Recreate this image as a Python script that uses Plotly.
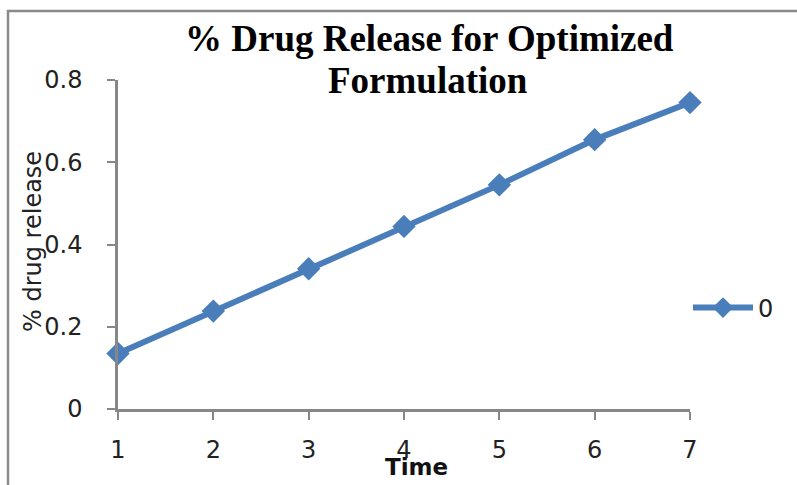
import plotly.graph_objects as go

time = [1, 2, 3, 4, 5, 6, 7]
release = [0.135, 0.238, 0.341, 0.444, 0.545, 0.655, 0.745]
series_name = "0"
y_ticks = [0, 0.2, 0.4, 0.6, 0.8]
y_tick_text = ["0", "0.2", "0.4", "0.6", "0.8"]
title_lines = ["% Drug Release for Optimized", "Formulation"]

BLUE = "#4a7ebb"
AXIS = "#878787"

fig = go.Figure()
fig.add_trace(go.Scatter(
    x=time, y=release, name=series_name, mode="lines+markers",
    line=dict(color=BLUE, width=6),
    marker=dict(symbol="diamond", size=18, color=BLUE),
    cliponaxis=False,
))

L, R, T, B = 118, 107, 80, 76
W, H = 797, 485
pw, ph = W - L - R, H - T - B

def px(xp):
    return (xp - L) / pw

def py(yp):
    return (H - B - yp) / ph

fig.update_layout(
    width=W, height=H,
    margin=dict(l=L, r=R, t=T, b=B, pad=0),
    paper_bgcolor="white", plot_bgcolor="white",
    showlegend=True,
    legend=dict(x=px(688), y=py(308), xanchor="left", yanchor="middle",
                font=dict(family="DejaVu Sans", size=24, color="#222"),
                bgcolor="rgba(0,0,0,0)", itemwidth=60),
    xaxis=dict(
        range=[1, 7], tickmode="array", tickvals=time,
        ticks="outside", ticklen=8, tickwidth=2, tickcolor=AXIS,
        showline=True, linecolor=AXIS, linewidth=2.5,
        showgrid=False, zeroline=False, ticklabelstandoff=9,
        tickfont=dict(family="DejaVu Sans", size=24, color="#222"),
    ),
    yaxis=dict(
        range=[0, 0.8], tickmode="array", tickvals=y_ticks, ticktext=y_tick_text,
        ticks="outside", ticklen=8, tickwidth=2, tickcolor=AXIS,
        showline=True, linecolor=AXIS, linewidth=2.5,
        showgrid=False, zeroline=False, ticklabelstandoff=20,
        tickfont=dict(family="DejaVu Sans", size=24, color="#222"),
    ),
    annotations=[
        dict(text="<b>" + title_lines[0] + "</b>",
             xref="paper", yref="paper", x=px(429), y=py(38),
             xanchor="center", yanchor="middle", showarrow=False,
             font=dict(family="Liberation Serif", size=37, color="black")),
        dict(text="<b>" + title_lines[1] + "</b>",
             xref="paper", yref="paper", x=px(428), y=py(81),
             xanchor="center", yanchor="middle", showarrow=False,
             font=dict(family="Liberation Serif", size=37, color="black")),
        dict(text="% drug release", xref="paper", yref="paper",
             x=px(33), y=py(242), xanchor="center", yanchor="middle",
             textangle=-90, showarrow=False,
             font=dict(family="DejaVu Sans", size=24, color="#222")),
        dict(text="<b>Time</b>", xref="paper", yref="paper",
             x=px(416), y=py(467), xanchor="center", yanchor="middle",
             showarrow=False,
             font=dict(family="DejaVu Sans", size=23, color="#111")),
    ],
    shapes=[
        dict(type="rect", xref="paper", yref="paper",
             x0=px(8), x1=px(805), y0=py(495), y1=py(11),
             line=dict(color="#8a8a8a", width=2.5), fillcolor="rgba(0,0,0,0)",
             layer="below"),
    ],
)

fig.write_html("out.html", config={"displayModeBar": False},
               post_script="document.body.style.margin='0';")
